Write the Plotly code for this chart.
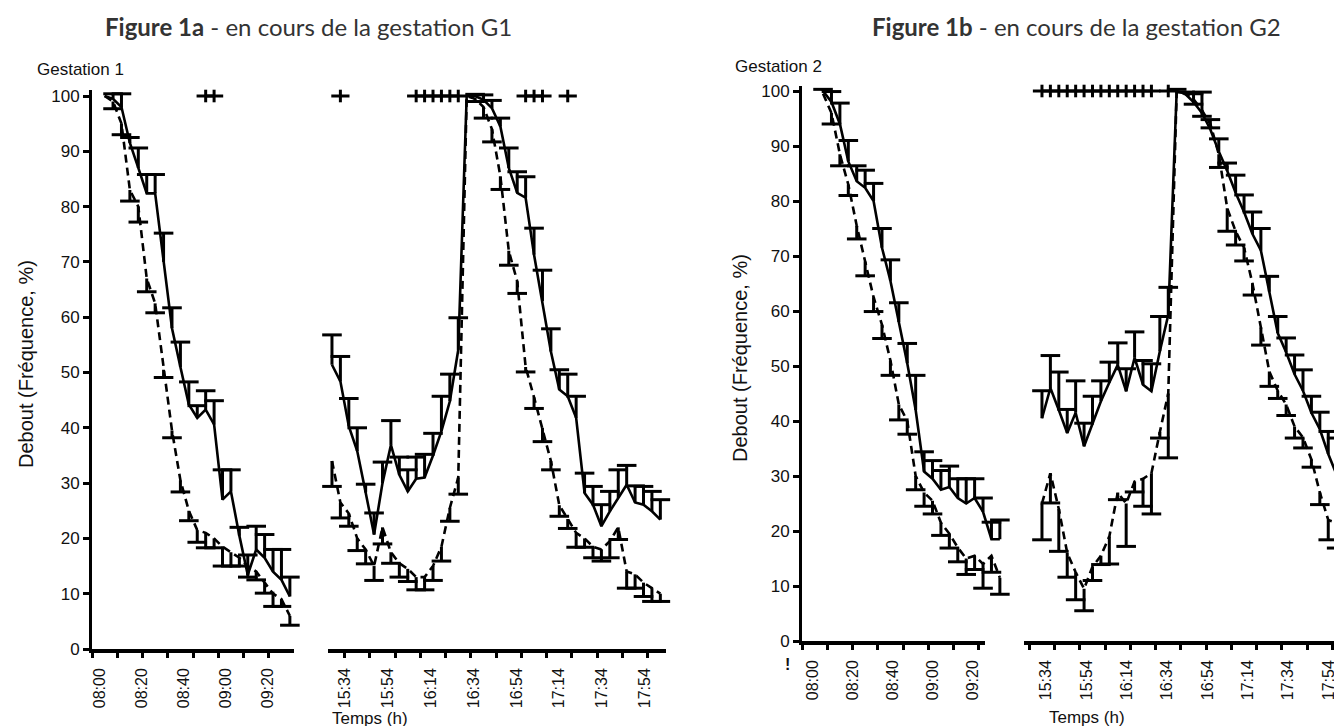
import numpy as np
import plotly.graph_objects as go

W, H = 1342, 726


def hm(m):
    return f"{m // 60:02d}:{m % 60:02d}"


# ---------------- categories (4-minute steps, broken axis) ----------------
AM_CATS = [hm(480 + 4 * i) for i in range(24)]          # 08:00 .. 09:32
GAP_CATS = [" " * (i + 1) for i in range(4)]             # break in the axis
PM_CATS = [hm(930 + 4 * i) for i in range(40)]           # 15:30 .. 18:06
CATS = AM_CATS + GAP_CATS + PM_CATS

AM_LABELS = ["08:00", "08:20", "08:40", "09:00", "09:20"]
PM_LABELS = ["15:34", "15:54", "16:14", "16:34", "16:54", "17:14", "17:34", "17:54"]

# ---------------- Gestation 1 ----------------
g1_am_t = AM_CATS[1:24]
g1_am_solid = [100, 99.5, 98, 91.5, 87, 82.4, 82.4, 70, 58, 51, 44.2, 41.8, 43.3, 40.6,
               27, 28.5, 20.5, 13.4, 18, 16.5, 14, 12.5, 9.5]
g1_am_solid_err = [0, 0.9, 2.4, 1, 3.6, 3.4, 3.4, 5.2, 3.7, 4.5, 4.1, 2.2, 3.4, 4.3,
                   5.4, 3.9, 1.5, 3.6, 4.2, 4.2, 4, 5.5, 3.5]
g1_am_dash = [100, 99, 95, 83, 80, 67, 62.5, 50.5, 39.5, 30.5, 25, 21.5, 21, 20,
              18.5, 17.5, 16.5, 15, 14, 12, 10, 9, 6]
g1_am_dash_err = [0, 1.3, 2, 2, 2.8, 2.4, 1.7, 1.4, 1.3, 2.1, 1.8, 2.2, 2.7, 1.7,
                  3.5, 2.5, 1.5, 2, 1.5, 1.9, 2.3, 1.3, 1.7]

g1_pm_t = PM_CATS[0:40]
g1_pm_solid = [51.4, 48.4, 40.3, 35.8, 28.3, 20.7, 30, 36.9, 31.5, 28.5, 30.8, 31, 35, 39.4,
               44.8, 54.1, 100, 100, 99.3, 97.8, 94.5, 87, 82.5, 81.6, 71.3, 62.9, 53.8,
               46.9, 45.7, 41.8, 28.2, 26.1, 22.2, 24.9, 27.3, 29.7, 26.5, 26.1, 24.9, 23.4]
g1_pm_solid_err = [5.4, 4.5, 5, 4.2, 1.5, 3.9, 3.8, 4.4, 3.2, 3.9, 3.9, 4.2, 4, 6.3,
                   4.9, 5.8, 0, 0.3, 0.9, 1.4, 1.5, 3.6, 3.8, 3.8, 4.8, 5.6, 4.1,
                   3.6, 4, 3.9, 3.6, 3.3, 3.9, 3.6, 5.1, 3.5, 3, 3.3, 3.6, 3.6]
g1_pm_dash = [34, 26.5, 24.5, 20, 18, 15, 22, 17.5, 15.5, 14.5, 13, 13, 15, 18.5,
              25.5, 31, 100, 99.5, 98, 94, 85.5, 72, 66.5, 51, 45.5, 40, 34,
              26, 23.5, 21, 20, 18.5, 18, 19.5, 22, 14, 13.5, 12, 11, 10]
g1_pm_dash_err = [4.6, 2.8, 2.3, 2.2, 2.6, 2.6, 3, 2, 2.5, 2.3, 2.3, 2.3, 2.6, 2.6,
                  2.4, 3, 0, 0.5, 2, 2.3, 2.4, 2.6, 2.2, 0.9, 2, 2.5, 1.6,
                  2, 1.7, 2.6, 1.6, 2, 2.1, 3, 2.2, 3, 2.5, 2.5, 2.4, 1.4]

g1_sig_t = ["08:52", "08:56", "15:34", "16:10", "16:14", "16:18", "16:22", "16:26",
            "16:30", "17:02", "17:06", "17:10", "17:22"]

# ---------------- Gestation 2 ----------------
g2_am_t = AM_CATS[2:24]
g2_am_solid = [100, 98, 94, 87.2, 83.6, 82.4, 80, 71.5, 65.5, 58, 50.5, 42, 30.8, 29.5,
               27.5, 28, 26, 25, 26, 23.5, 18.5, 18.5]
g2_am_solid_err = [0.3, 1.9, 3.8, 3.8, 2.8, 3.2, 3.2, 3.5, 3.8, 3.5, 3.6, 6.3, 3.6, 3.3,
                   3.5, 3.8, 3.5, 4.5, 3.5, 2.5, 3.1, 3.5]
g2_am_dash = [99.5, 96, 88.5, 83, 75.5, 69, 62.5, 57.5, 51, 43, 40, 30, 27, 25.5,
              21.5, 19.5, 17, 15, 15.5, 14, 15.5, 11.5]
g2_am_dash_err = [0, 2, 2.1, 2, 2.4, 2.6, 2.6, 2.5, 2.7, 2.8, 2.4, 2.5, 2.5, 2.4,
                  2.3, 2.6, 2.6, 2.9, 2.5, 4.4, 3, 3]

g2_pm_t = PM_CATS[0:37]
g2_pm_solid = [40.5, 46, 42, 37.8, 41.5, 35.4, 39.5, 43.6, 47, 50.2, 45.4, 51.5, 46.6, 45.4,
               52.7, 59.3, 100, 99.5, 98, 96, 93, 89, 85.5, 81.5, 78, 74, 71, 63.5, 56,
               52.5, 48.5, 45.5, 41.5, 38.5, 34, 30.2, 33]
g2_pm_solid_err = [5, 5.9, 6.9, 4.3, 5.8, 4.2, 5, 3.7, 3.7, 4, 4.1, 4.7, 4.4, 5,
                   6.3, 5, 0.3, 0.3, 1.5, 3.8, 1.8, 2.3, 1.4, 3.2, 3.1, 4, 4, 2.8, 3,
                   2.6, 3.5, 3.8, 3, 3.1, 4.1, 6.7, 3.5]
g2_pm_dash = [25, 30.5, 24, 16, 12.5, 9.5, 13.5, 15.5, 19, 27, 25, 29, 29.5, 30.5,
              38, 45, 100, 99.5, 98.5, 96.5, 94, 88.5, 78.7, 74.5, 71.5, 65, 57, 49, 45.5,
              43, 39, 37, 33, 27, 22, 21.5, 22.5]
g2_pm_dash_err = [6.6, 5.4, 7.7, 4.4, 5, 4, 2.5, 1.6, 5, 1.3, 7.8, 1.9, 5, 7.4,
                  1.1, 11.7, 0, 0, 0.9, 1.1, 0.7, 2.4, 4.2, 2.5, 2.4, 2.1, 3.2, 2.7, 1.4,
                  2, 2.1, 1.9, 1.4, 2.2, 3.6, 4.6, 3]

g2_sig_t = ["15:30", "15:34", "15:38", "15:42", "15:46", "15:50", "15:54", "15:58",
            "16:02", "16:06", "16:10", "16:14", "16:18", "16:22", "16:30"]

SIG_LEVEL = 100

# ---------------- figure ----------------
fig = go.Figure()
BLACK = "black"


def add_series(t, v, e, up, dashed, xa, ya):
    v = np.asarray(v, float)
    e = np.asarray(e, float)
    zeros = np.zeros_like(e)
    err = dict(type="data", symmetric=False,
               array=(e if up else zeros).tolist(),
               arrayminus=(zeros if up else e).tolist(),
               width=0, thickness=3, color=BLACK)
    fig.add_trace(go.Scatter(
        x=t, y=v.tolist(), mode="lines",
        line=dict(color=BLACK, width=2.6, dash=("8px,5px" if dashed else "solid")),
        error_y=err, xaxis=xa, yaxis=ya, showlegend=False, hoverinfo="skip",
        cliponaxis=False))
    tip = v + e if up else v - e
    tip = [float(a) if b > 0 else None for a, b in zip(tip, e)]
    fig.add_trace(go.Scatter(
        x=t, y=tip, mode="markers",
        marker=dict(symbol="line-ew", size=14, color=BLACK,
                    line=dict(width=3, color=BLACK)),
        xaxis=xa, yaxis=ya, showlegend=False, hoverinfo="skip", cliponaxis=False))


def add_sig(t, xa, ya):
    yv = [SIG_LEVEL] * len(t)
    for sym, size in (("line-ew", 13), ("line-ns", 9)):
        fig.add_trace(go.Scatter(
            x=t, y=yv, mode="markers",
            marker=dict(symbol=sym, size=size, color=BLACK,
                        line=dict(width=3, color=BLACK)),
            xaxis=xa, yaxis=ya, showlegend=False, hoverinfo="skip", cliponaxis=False))


# Gestation 1 -> x / y
add_series(g1_am_t, g1_am_dash, g1_am_dash_err, False, True, "x", "y")
add_series(g1_am_t, g1_am_solid, g1_am_solid_err, True, False, "x", "y")
add_series(g1_pm_t, g1_pm_dash, g1_pm_dash_err, False, True, "x", "y")
add_series(g1_pm_t, g1_pm_solid, g1_pm_solid_err, True, False, "x", "y")
add_sig(g1_sig_t, "x", "y")

# Gestation 2 -> x2 / y2
add_series(g2_am_t, g2_am_dash, g2_am_dash_err, False, True, "x2", "y2")
add_series(g2_am_t, g2_am_solid, g2_am_solid_err, True, False, "x2", "y2")
add_series(g2_pm_t, g2_pm_dash, g2_pm_dash_err, False, True, "x2", "y2")
add_series(g2_pm_t, g2_pm_solid, g2_pm_solid_err, True, False, "x2", "y2")
add_sig(g2_sig_t, "x2", "y2")

# empty traces to hold the decorative (broken) time axes
for xa, ya in (("x3", "y"), ("x4", "y"), ("x5", "y2"), ("x6", "y2")):
    fig.add_trace(go.Scatter(x=[], y=[], xaxis=xa, yaxis=ya, showlegend=False,
                             hoverinfo="skip"))


def px(x):
    return x / W


def py(y):
    return 1 - y / H


FONT = "Liberation Sans, Arial, sans-serif"
CW = 8.42  # px per category


def cat_ix(label):
    return CATS.index(label)


def deco_axis(x0, x1, b0, lab_pos, labels, minor_pos, ya):
    return dict(
        type="linear", domain=[px(x0), px(x1)], anchor=ya,
        range=[b0 - 0.5, b0 - 0.5 + (x1 - x0) / CW],
        showline=True, linewidth=3.5, linecolor=BLACK, showgrid=False, zeroline=False,
        tickmode="array", tickvals=lab_pos, ticktext=labels, ticks="",
        tickangle=-90, tickfont=dict(family=FONT, size=16, color="#111"),
        ticklabelstandoff=9,
        minor=dict(tickmode="array", tickvals=minor_pos, ticks="outside",
                   ticklen=5, tickwidth=3, tickcolor=BLACK, showgrid=False),
        fixedrange=True)


def yaxis_style(y0, y1, xa):
    return dict(
        domain=[py(y0), py(y1)], anchor=xa, range=[0, 101],
        showline=True, linewidth=3, linecolor=BLACK, showgrid=False, zeroline=False,
        tickmode="array", tickvals=list(range(0, 101, 10)), ticks="outside",
        ticklen=6, tickwidth=2.5, tickcolor=BLACK,
        tickfont=dict(family=FONT, size=17, color="#111"), fixedrange=True)


# panel geometry
L_X0, L_X1 = 84, 658
R_X0, R_X1 = 794, 1342

left_am_lab = [cat_ix(s) + 0.4 for s in AM_LABELS]
left_pm_lab = [cat_ix(PM_LABELS[0]) + 0.58 + 5.08 * i for i in range(len(PM_LABELS))]
right_am_lab = [0.8 + 4.75 * i for i in range(len(AM_LABELS))]
right_pm_lab = [28.5 + 4.79 * i for i in range(len(PM_LABELS))]

fig.update_layout(
    width=W, height=H, autosize=False, template="none",
    margin=dict(l=0, r=0, t=0, b=0, pad=0),
    paper_bgcolor="white", plot_bgcolor="rgba(0,0,0,0)",
    showlegend=False,
    xaxis=dict(type="category", categoryorder="array", categoryarray=CATS,
               domain=[px(L_X0), px(L_X1)], range=[-0.5, -0.5 + (L_X1 - L_X0) / CW],
               visible=False, anchor="y", fixedrange=True),
    yaxis=yaxis_style(641, 641 - 101 * 5.53, "x"),
    xaxis2=dict(type="category", categoryorder="array", categoryarray=CATS,
                domain=[px(R_X0), 1.0], range=[-0.5, -0.5 + (R_X1 - R_X0) / CW],
                visible=False, anchor="y2", fixedrange=True),
    yaxis2=yaxis_style(633, 633 - 101 * 5.5, "x2"),
    xaxis3=deco_axis(84, 286, 0, left_am_lab, AM_LABELS,
                     [b - 0.5 for b in range(0, 22, 3)], "y"),
    xaxis4=deco_axis(320, 658, 28.03, left_pm_lab, PM_LABELS,
                     [b - 0.5 for b in range(30, 67, 3)], "y"),
    xaxis5=deco_axis(794, 977, 0, right_am_lab, AM_LABELS,
                     [b - 0.5 for b in range(0, 22, 3)], "y2"),
    xaxis6=deco_axis(1016, 1342, 26.37, right_pm_lab, PM_LABELS,
                     [b - 0.5 for b in range(27, 64, 3)], "y2"),
)

ann = []
TFONT = "Lato, Noto Sans, sans-serif"
ann.append(dict(text="<b>Figure 1a</b> - en cours de la gestation G1", x=px(300), y=py(19),
                xref="paper", yref="paper", showarrow=False, xanchor="center", yanchor="middle",
                font=dict(family=TFONT, size=24, color="#333")))
ann.append(dict(text="<b>Figure 1b</b> - en cours de la gestation G2", x=px(1068), y=py(19),
                xref="paper", yref="paper", showarrow=False, xanchor="center", yanchor="middle",
                font=dict(family=TFONT, size=24, color="#333")))
ann.append(dict(text="Gestation 1", x=px(27), y=py(62), xref="paper", yref="paper",
                showarrow=False, xanchor="left", yanchor="middle",
                font=dict(family=FONT, size=17, color="#111")))
ann.append(dict(text="Gestation 2", x=px(725), y=py(58), xref="paper", yref="paper",
                showarrow=False, xanchor="left", yanchor="middle",
                font=dict(family=FONT, size=17, color="#111")))
for xx, yy in ((18, 356), (732, 350)):
    ann.append(dict(text="Debout (Fréquence, %)", x=px(xx), y=py(yy), xref="paper",
                    yref="paper", showarrow=False, textangle=-90, xanchor="center",
                    yanchor="middle", font=dict(family=FONT, size=20, color="#111")))
for xx, yy in ((362, 710), (1079, 709)):
    ann.append(dict(text="Temps (h)", x=px(xx), y=py(yy), xref="paper", yref="paper",
                    showarrow=False, xanchor="center", yanchor="middle",
                    font=dict(family=FONT, size=17, color="#111")))
ann.append(dict(text="<b>!</b>", x=px(779), y=py(656), xref="paper", yref="paper",
                showarrow=False, xanchor="center", yanchor="middle",
                font=dict(family=FONT, size=16, color="#111")))
fig.update_layout(annotations=ann)

fig.write_html("out.html")
